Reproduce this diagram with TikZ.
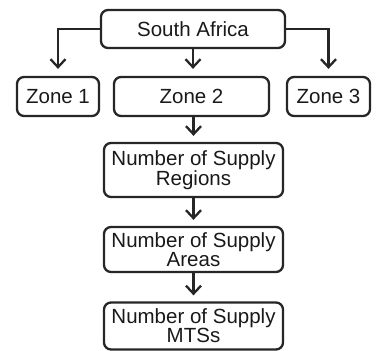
\documentclass[tikz,border=0pt]{standalone}
\usepackage{fontspec}
\setmainfont{Liberation Sans}
\usetikzlibrary{arrows.meta}
\begin{document}
\begin{tikzpicture}[x=1bp,y=-1bp,
  box/.style={draw=black!85, line width=2.3bp, rounded corners=7bp, inner sep=0pt,
    align=center, font=\fontsize{20.5bp}{19bp}\selectfont, text=black!90},
  link/.style={draw=black!85, line width=2.3bp,
    -{Straight Barb[length=8bp,width=15bp,line width=2.3bp]}}]
  \useasboundingbox (0,0) rectangle (379,351);
  % top level
  \node[box, minimum width=184bp, minimum height=38bp] (sa) at (193,29) {South Africa};
  % zones
  \node[box, minimum width=82bp, minimum height=39bp] (z1) at (58,96.5) {Zone 1};
  \node[box, minimum width=155bp, minimum height=39bp] (z2) at (191.5,96.5) {Zone 2};
  \node[box, minimum width=83bp, minimum height=39bp] (z3) at (328.5,96.5) {Zone 3};
  % supply chain below zone 2
  \node[box, minimum width=179bp, minimum height=54bp] (reg) at (193.5,170) {Number of Supply\\Regions};
  \node[box, minimum width=179bp, minimum height=45bp] (area) at (193.5,249.5) {Number of Supply\\Areas};
  \node[box, minimum width=179bp, minimum height=47bp] (mts) at (193.5,326) {Number of Supply\\MTSs};
  % connectors
  \draw[link, shorten >=7bp] (sa.west) -| (z1.north);
  \draw[link, shorten >=7bp] (sa.south) -- (sa.south |- z2.north);
  \draw[link, shorten >=7bp] (sa.east) -| (z3.north);
  \draw[link, shorten >=6bp] (z2.south -| reg.north) -- (reg.north);
  \draw[link, shorten >=6bp] (reg.south) -- (area.north);
  \draw[link, shorten >=6bp] (area.south) -- (mts.north);
\end{tikzpicture}
\end{document}
